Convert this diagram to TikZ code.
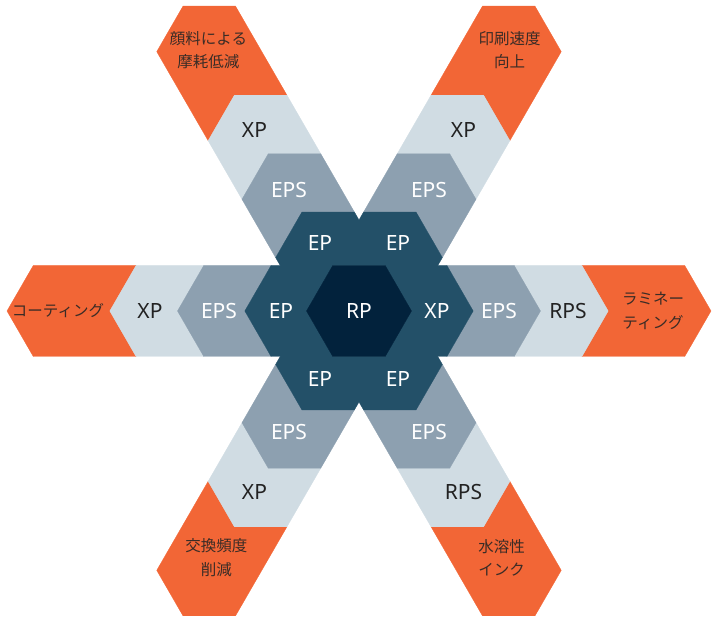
\documentclass[tikz,border=0pt]{standalone}
\usepackage{fontspec}
\setmainfont{Noto Sans}
\newfontfamily\jpfont{Noto Sans CJK JP}
\definecolor{hexorange}{HTML}{F26636}
\definecolor{hexlight}{HTML}{D0DCE3}
\definecolor{hexmid}{HTML}{8DA0B0}
\definecolor{hexdark}{HTML}{235068}
\definecolor{hexnavy}{HTML}{02223C}
\definecolor{txtdark}{HTML}{222222}
\definecolor{jpdark}{HTML}{3A2C26}
\def\chh{45.5}
\def\chw{26.27}
% one chevron band of an arm, from distance #2 to #3
\newcommand{\armseg}[3]{%
	\filldraw[fill=#1,draw=#1,line width=0.3pt] (#2,0) -- (#2-\chw,\chh) -- (#3-\chw,\chh) -- (#3,0) -- (#3-\chw,-\chh) -- (#2-\chw,-\chh) -- cycle;}
\tikzset{
	latin/.style={font=\fontsize{21}{24}\selectfont},
	ondark/.style={latin,text=white},
	onlight/.style={latin,text=txtdark},
	jptext/.style={font=\jpfont\fontsize{15.5}{23.5}\selectfont,text=jpdark,align=center},
}
\begin{document}
\begin{tikzpicture}[x=1pt,y=1pt]
	\useasboundingbox (-359,-306) rectangle (353,311);
	\foreach \ang in {0,60,...,300} {
		\begin{scope}[rotate=\ang]
			\armseg{hexorange}{249.2}{352}
			\armseg{hexlight}{181.5}{249.2}
			\armseg{hexmid}{114.2}{181.5}
			\armseg{hexdark}{52.5}{114.2}
		\end{scope}
	}
	\filldraw[fill=hexnavy,draw=hexnavy,line width=0.3pt] (0:52.5) -- (60:52.5) -- (120:52.5) -- (180:52.5) -- (240:52.5) -- (300:52.5) -- cycle;
	\node[ondark] (core) at (0,0) {RP};
	\foreach \ang/\txt in {0/XP,60/EP,120/EP,180/EP,240/EP,300/EP}
		\node[ondark] (inner\ang) at (\ang:78) {\txt};
	\foreach \ang in {0,60,...,300}
		\node[ondark] (mid\ang) at (\ang:140) {EPS};
	\foreach \ang/\txt in {0/RPS,60/XP,120/XP,180/XP,240/XP,300/RPS}
		\node[onlight] (outer\ang) at (\ang:209) {\txt};
	\foreach \ang/\dist/\txt in {0/294/{ラミネー\\ティング},60/301/{印刷速度\\向上},120/301/{顔料による\\摩耗低減},180/301/{コーティング},240/285/{交換頻度\\削減},300/285/{水溶性\\インク}}
		\node[jptext] (goal\ang) at (\ang:\dist) {\txt};
\end{tikzpicture}
\end{document}
